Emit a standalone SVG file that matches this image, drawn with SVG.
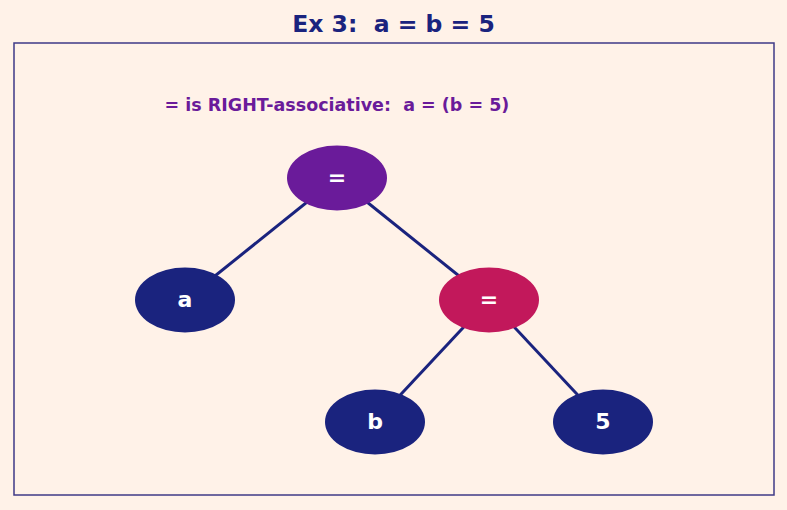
<svg xmlns="http://www.w3.org/2000/svg" width="787" height="510" viewBox="0 0 787 510">
<style>
text{font-family:"DejaVu Sans","Liberation Sans",sans-serif;font-weight:bold;text-anchor:middle;dominant-baseline:central}
.lbl{fill:#fff;font-size:22px}
.edge{stroke:#1A237E;stroke-width:3;fill:none}
</style>
<rect x="0" y="0" width="787" height="510" fill="#FFF2E8"/>
<text x="393.5" y="24" font-size="23.5" fill="#1A237E" xml:space="preserve">Ex 3:  a = b = 5</text>
<rect x="14" y="43" width="760" height="452" fill="none" stroke="#3F3A86" stroke-width="1.5"/>
<text x="337" y="105" font-size="17.5" fill="#6A1B9A" xml:space="preserve">= is RIGHT-associative:  a = (b = 5)</text>
<g id="edges">
<line class="edge" x1="337" y1="178" x2="185" y2="300"/>
<line class="edge" x1="337" y1="178" x2="489" y2="300"/>
<line class="edge" x1="489" y1="300" x2="375" y2="422"/>
<line class="edge" x1="489" y1="300" x2="603" y2="422"/>
</g>
<g id="n_root"><ellipse cx="337" cy="178" rx="50" ry="32.5" fill="#6A1B9A"/><text class="lbl" x="337" y="177">=</text></g>
<g id="n_a"><ellipse cx="185" cy="300" rx="50" ry="32.5" fill="#1A237E"/><text class="lbl" x="185" y="299">a</text></g>
<g id="n_eq2"><ellipse cx="489" cy="300" rx="50" ry="32.5" fill="#C2185B"/><text class="lbl" x="489" y="299">=</text></g>
<g id="n_b"><ellipse cx="375" cy="422" rx="50" ry="32.5" fill="#1A237E"/><text class="lbl" x="375" y="421">b</text></g>
<g id="n_5"><ellipse cx="603" cy="422" rx="50" ry="32.5" fill="#1A237E"/><text class="lbl" x="603" y="421">5</text></g>
</svg>
